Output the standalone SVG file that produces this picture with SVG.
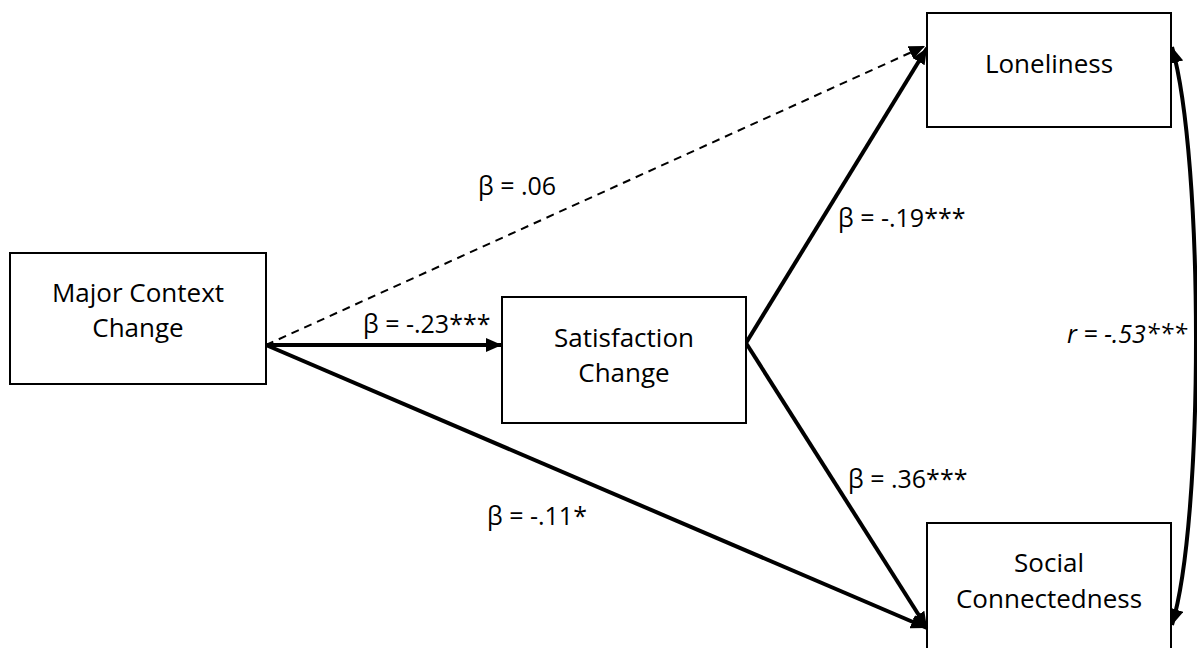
<svg xmlns="http://www.w3.org/2000/svg" width="1197" height="648" viewBox="0 0 1197 648">
  <style>
    .box { fill: #ffffff; stroke: #000000; stroke-width: 2; }
    .txt { font-family: "Open Sans", "Liberation Sans", sans-serif; font-size: 25px; fill: #000000; }
    .node { font-size: 26px; text-anchor: middle; }
    .solid { fill: none; stroke: #000000; stroke-width: 4; }
    .dash { fill: none; stroke: #000000; stroke-width: 2; stroke-dasharray: 8 6; }
  </style>
  <defs>
    <marker id="ah" viewBox="0 0 10 10" refX="10" refY="5" markerWidth="16" markerHeight="14" markerUnits="userSpaceOnUse" orient="auto-start-reverse" preserveAspectRatio="none">
      <path d="M0,0 L10,5 L0,10 Z" fill="#000000"/>
    </marker>
    <marker id="ahd" viewBox="0 0 10 10" refX="10" refY="5" markerWidth="16" markerHeight="14" markerUnits="userSpaceOnUse" orient="auto" preserveAspectRatio="none">
      <path d="M0,0 L10,5 L0,10 Z" fill="#000000"/>
    </marker>
  </defs>
  <rect width="1197" height="648" fill="#ffffff"/>

  <g id="connectors">
    <line class="dash" x1="266" y1="345" x2="925" y2="46" marker-end="url(#ahd)"/>
    <line class="solid" x1="266" y1="345" x2="502" y2="345" marker-end="url(#ah)"/>
    <line class="solid" x1="266" y1="345" x2="927" y2="628" marker-end="url(#ah)"/>
    <line class="solid" x1="746" y1="343" x2="927" y2="48" marker-end="url(#ah)"/>
    <line class="solid" x1="746" y1="343" x2="927" y2="628" marker-end="url(#ah)"/>
    <path class="solid" d="M1172,47 C1204,160 1204,520 1172,625" marker-start="url(#ah)" marker-end="url(#ah)"/>
  </g>

  <g id="labels">
    <text class="txt" x="478" y="195">β = .06</text>
    <text class="txt" x="363" y="333">β = -.23***</text>
    <text class="txt" x="838" y="227">β = -.19***</text>
    <text class="txt" x="848" y="488">β = .36***</text>
    <text class="txt" x="487" y="525">β = -.11*</text>
    <text class="txt" x="1067" y="343" font-style="italic">r = -.53***</text>
  </g>

  <g id="node-major-context-change">
    <rect class="box" x="10" y="253" width="256" height="131"/>
    <text class="txt node" x="138" y="302">Major Context</text>
    <text class="txt node" x="138" y="337">Change</text>
  </g>
  <g id="node-satisfaction-change">
    <rect class="box" x="502" y="297" width="244" height="126"/>
    <text class="txt node" x="624" y="347">Satisfaction</text>
    <text class="txt node" x="624" y="382">Change</text>
  </g>
  <g id="node-loneliness">
    <rect class="box" x="927" y="13" width="244" height="114"/>
    <text class="txt node" x="1049" y="73">Loneliness</text>
  </g>
  <g id="node-social-connectedness">
    <rect class="box" x="927" y="523" width="244" height="130"/>
    <text class="txt node" x="1049" y="572">Social</text>
    <text class="txt node" x="1049" y="608">Connectedness</text>
  </g>
</svg>
